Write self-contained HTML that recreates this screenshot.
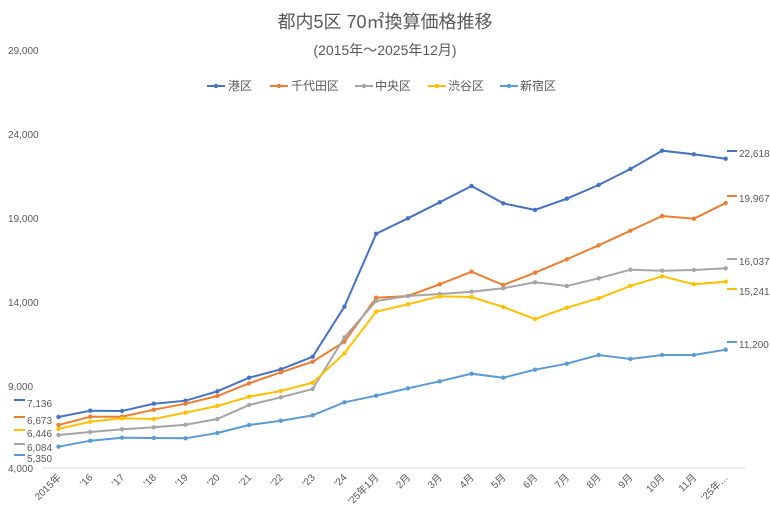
<!DOCTYPE html>
<html><head><meta charset="utf-8"><style>
body{margin:0;background:#fff}
svg text{font-family:"Liberation Sans","Noto Sans CJK JP",sans-serif;fill:#595959}
</style></head><body>
<svg width="770" height="519" viewBox="0 0 770 519" xmlns="http://www.w3.org/2000/svg">
<text x="385" y="28" font-size="18" text-anchor="middle">都内5区 70㎡換算価格推移</text>
<text x="385" y="55" font-size="14" text-anchor="middle">(2015年～2025年12月)</text>
<g font-size="12">
<line x1="207" y1="86" x2="225" y2="86" stroke="#4472C4" stroke-width="2"/><circle cx="216" cy="86" r="2.2" fill="#4472C4"/><text x="228" y="90">港区</text>
<line x1="270" y1="86" x2="288" y2="86" stroke="#ED7D31" stroke-width="2"/><circle cx="279" cy="86" r="2.2" fill="#ED7D31"/><text x="291" y="90">千代田区</text>
<line x1="355" y1="86" x2="373" y2="86" stroke="#A5A5A5" stroke-width="2"/><circle cx="364" cy="86" r="2.2" fill="#A5A5A5"/><text x="375" y="90">中央区</text>
<line x1="428" y1="86" x2="446" y2="86" stroke="#FFC000" stroke-width="2"/><circle cx="437" cy="86" r="2.2" fill="#FFC000"/><text x="448" y="90">渋谷区</text>
<line x1="500" y1="86" x2="518" y2="86" stroke="#5B9BD5" stroke-width="2"/><circle cx="509" cy="86" r="2.2" fill="#5B9BD5"/><text x="520" y="90">新宿区</text>
</g>
<g font-size="10">
<text x="8" y="54">29,000</text>
<text x="8" y="138">24,000</text>
<text x="8" y="222">19,000</text>
<text x="8" y="306">14,000</text>
<text x="8" y="390">9,000</text>
<text x="8" y="472">4,000</text>
</g>
<line x1="42" y1="468" x2="745" y2="468" stroke="#d9d9d9" stroke-width="1"/>
<g id="lines" fill="none" stroke-width="2"></g>
<g font-size="10">
<g stroke-width="2">
<line x1="14" y1="400" x2="25" y2="400" stroke="#4472C4"/><line x1="14" y1="417" x2="25" y2="417" stroke="#ED7D31"/><line x1="14" y1="430" x2="25" y2="430" stroke="#FFC000"/><line x1="14" y1="444" x2="25" y2="444" stroke="#A5A5A5"/><line x1="14" y1="455" x2="25" y2="455" stroke="#5B9BD5"/>
<line x1="727" y1="151" x2="737" y2="151" stroke="#4472C4"/><line x1="727" y1="196" x2="737" y2="196" stroke="#ED7D31"/><line x1="727" y1="259" x2="737" y2="259" stroke="#A5A5A5"/><line x1="727" y1="289" x2="737" y2="289" stroke="#FFC000"/><line x1="727" y1="342" x2="737" y2="342" stroke="#5B9BD5"/>
</g>
<text x="27" y="407">7,136</text><text x="27" y="424">6,673</text><text x="27" y="437">6,446</text><text x="27" y="451">6,084</text><text x="27" y="462">5,350</text>
<text x="739" y="157">22,618</text><text x="739" y="202">19,967</text><text x="739" y="265">16,037</text><text x="739" y="295">15,241</text><text x="739" y="348">11,200</text>
</g>
<g id="xl" font-size="10"></g>
<script>
var labs=["2015年","'16","'17","'18","'19","'20","'21","'22","'23","'24","'25年1月","2月","3月","4月","5月","6月","7月","8月","9月","10月","11月","'25年…"];
var S=[["#4472C4",[417,410.7,411,403.7,400.7,391.3,377.7,369.3,356.7,306.7,233.7,218.3,202.3,186,203.3,210,198.7,185,169,150.7,154.3,158.7]],
["#ED7D31",[425,416.7,416.7,409.7,403.7,396,383.3,372.3,361.7,341.7,297.7,296,284.3,271.7,285,272.7,259.3,245.3,230.7,216,218.7,203]],
["#A5A5A5",[435,432,429.3,427.3,424.7,419,405,397.3,389,337.3,301,296,294,291.7,288.3,282.3,286,278.3,269.7,270.7,270,268.3]],
["#FFC000",[429,421.7,418.3,419,412.7,406,396.7,391,382.7,353.3,311.7,304.3,296.3,297,307,319,307.7,298.3,286,276.3,284.3,281.7]],
["#5B9BD5",[446.7,440.7,437.7,438,438.3,433,425,420.7,415.3,402.3,395.7,388.3,381.3,373.7,377.7,369.7,363.7,355,359,355,355,349.7]]];
var ns="http://www.w3.org/2000/svg",g=document.getElementById("lines"),xl=document.getElementById("xl");
function X(i){return 58.5+31.77*i}
S.forEach(function(s){var p=s[1].map(function(y,i){return X(i).toFixed(1)+","+y}).join(" ");
var e=document.createElementNS(ns,"polyline");e.setAttribute("points",p);e.setAttribute("stroke",s[0]);g.appendChild(e);
s[1].forEach(function(y,i){var c=document.createElementNS(ns,"circle");c.setAttribute("cx",X(i));c.setAttribute("cy",y);c.setAttribute("r",2.2);c.setAttribute("fill",s[0]);c.setAttribute("stroke","none");g.appendChild(c);});});
labs.forEach(function(l,i){var t=document.createElementNS(ns,"text");var x=X(i)+3,y=478;t.setAttribute("x",x);t.setAttribute("y",y);t.setAttribute("text-anchor","end");t.setAttribute("transform","rotate(-45 "+x+" "+y+")");t.textContent=l;xl.appendChild(t);});
</script>
</svg>
</body></html>
